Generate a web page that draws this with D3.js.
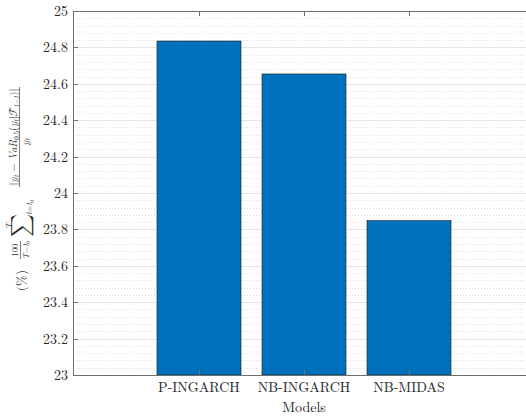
<!DOCTYPE html>
<html>
<head>
<meta charset="utf-8">
<script src="https://cdn.jsdelivr.net/npm/d3@7"></script>
<style>
  html, body { margin: 0; padding: 0; background: #fff; }
  svg { display: block; }
</style>
</head>
<body>
<svg id="chart" width="526" height="418"></svg>
<script>
const categories = ["P-INGARCH", "NB-INGARCH", "NB-MIDAS"];
const values = [24.835, 24.654, 23.848];
const yTicks = [23, 23.2, 23.4, 23.6, 23.8, 24, 24.2, 24.4, 24.6, 24.8, 25];
const yTickLabels = ["23", "23.2", "23.4", "23.6", "23.8", "24", "24.2", "24.4", "24.6", "24.8", "25"];
const xLabel = "Models";

(function () {
const svg = d3.select("#chart");
const serif = "'Latin Modern Roman', 'Liberation Serif', serif";
const mathF = "'Latin Modern Math', 'Latin Modern Roman', 'DejaVu Serif', serif";
const textColor = "#262626";
const pLeft = 73, pTop = 11, pBottom = 375, pRight = 535;

const x = d3.scaleLinear().domain([-0.2, 4.2]).range([pLeft, pRight]);
const y = d3.scaleLinear().domain([23, 25]).range([pBottom, pTop]);

// minor grid
const minor = d3.range(23, 25.0001, 0.04).filter(v => Math.abs(Math.round(v * 5) - v * 5) > 1e-6);
svg.append("g").selectAll("line").data(minor).join("line")
  .attr("x1", pLeft).attr("x2", 526)
  .attr("y1", d => Math.round(y(d)) + 0.5).attr("y2", d => Math.round(y(d)) + 0.5)
  .attr("stroke", "#dcdcdc").attr("stroke-width", 1).attr("stroke-dasharray", "1,2");

// major grid
svg.append("g").selectAll("line").data(yTicks).join("line")
  .attr("x1", pLeft).attr("x2", 526)
  .attr("y1", d => Math.round(y(d)) + 0.5).attr("y2", d => Math.round(y(d)) + 0.5)
  .attr("stroke", "#e3e3e3").attr("stroke-width", 1);

// bars
const bw = 0.8;
svg.append("g").selectAll("rect").data(values).join("rect")
  .attr("x", (d, i) => x(i + 1 - bw / 2))
  .attr("width", x(bw) - x(0))
  .attr("y", d => y(d))
  .attr("height", d => y(23) - y(d))
  .attr("fill", "#0072BD")
  .attr("stroke", "#1a1a1a").attr("stroke-width", 0.6);

// axes box lines
const axisColor = "#6e6e6e";
svg.append("line").attr("x1", pLeft + 0.5).attr("x2", pLeft + 0.5).attr("y1", pTop).attr("y2", pBottom)
  .attr("stroke", axisColor).attr("stroke-width", 1);
svg.append("line").attr("x1", pLeft).attr("x2", 526).attr("y1", pBottom + 0.5).attr("y2", pBottom + 0.5)
  .attr("stroke", axisColor).attr("stroke-width", 1);
svg.append("line").attr("x1", pLeft).attr("x2", 526).attr("y1", pTop + 0.5).attr("y2", pTop + 0.5)
  .attr("stroke", axisColor).attr("stroke-width", 1);

// y ticks (inward)
const yAxis = svg.append("g");
yAxis.selectAll("line").data(yTicks).join("line")
  .attr("x1", pLeft).attr("x2", pLeft + 5)
  .attr("y1", d => Math.round(y(d)) + 0.5).attr("y2", d => Math.round(y(d)) + 0.5)
  .attr("stroke", axisColor);
yAxis.selectAll("text").data(yTicks).join("text")
  .attr("x", pLeft - 5).attr("y", d => y(d) + 5)
  .attr("text-anchor", "end").attr("font-size", 14)
  .attr("font-family", serif).attr("fill", textColor)
  .text((d, i) => yTickLabels[i]);

// x ticks (inward, bottom & top)
const xAxis = svg.append("g");
categories.forEach((c, i) => {
  const cx = Math.round(x(i + 1)) + 0.5;
  xAxis.append("line").attr("x1", cx).attr("x2", cx).attr("y1", pBottom).attr("y2", pBottom - 5).attr("stroke", axisColor);
  xAxis.append("line").attr("x1", cx).attr("x2", cx).attr("y1", pTop).attr("y2", pTop + 5).attr("stroke", axisColor);
  xAxis.append("text").attr("x", x(i + 1)).attr("y", 392)
    .attr("text-anchor", "middle").attr("font-size", 14)
    .attr("font-family", serif).attr("fill", textColor).text(c);
});

// x label
svg.append("text").attr("x", (pLeft + pRight) / 2).attr("y", 412)
  .attr("text-anchor", "middle").attr("font-size", 14)
  .attr("font-family", serif).attr("fill", textColor).text(xLabel);

// y label (math, rotated)
const g = svg.append("g").attr("transform", "translate(21,292) rotate(-90)")
  .attr("font-family", serif).attr("fill", textColor);
const it = "italic";
g.append("text").attr("x", 1).attr("y", 4.5).attr("font-size", 13).text("(%)");
g.append("text").attr("x", 42).attr("y", -3).attr("text-anchor", "middle").attr("font-size", 8.5).text("100");
g.append("line").attr("x1", 33).attr("x2", 51).attr("y1", -0.5).attr("y2", -0.5).attr("stroke", textColor).attr("stroke-width", 0.6);
{
  const t = g.append("text").attr("x", 42).attr("y", 7.5).attr("text-anchor", "middle").attr("font-size", 8.5);
  t.append("tspan").attr("font-style", it).text("T");
  t.append("tspan").text("\u2212");
  t.append("tspan").attr("font-style", it).text("t");
  t.append("tspan").attr("font-size", 6).attr("dy", 1.5).text("0");
}
g.append("text").attr("x", 55).attr("y", 7).attr("font-size", 22).attr("font-family", mathF).text("\u2211");
g.append("text").attr("x", 63).attr("y", -9).attr("font-size", 8.5).attr("font-style", it).text("T");
{
  const t = g.append("text").attr("x", 77).attr("y", 11).attr("font-size", 8.5);
  t.append("tspan").attr("font-style", it).text("t");
  t.append("tspan").text("=");
  t.append("tspan").attr("font-style", it).text("t");
  t.append("tspan").attr("font-size", 6).attr("dy", 1.5).text("0");
}
{
  const t = g.append("text").attr("x", 155).attr("y", -4).attr("text-anchor", "middle").attr("font-size", 10.5);
  t.append("tspan").text("|");
  t.append("tspan").attr("font-style", it).text("y");
  t.append("tspan").attr("font-style", it).attr("font-size", 7).attr("dy", 1.5).text("t");
  t.append("tspan").attr("dy", -1.5).text(" \u2212 ");
  t.append("tspan").attr("font-style", it).text("VaR");
  t.append("tspan").attr("font-size", 7).attr("dy", 1.5).text("0.5");
  t.append("tspan").attr("dy", -1.5).text("(");
  t.append("tspan").attr("font-style", it).text("y");
  t.append("tspan").attr("font-style", it).attr("font-size", 7).attr("dy", 1.5).text("t");
  t.append("tspan").attr("dy", -1.5).text("|");
  t.append("tspan").attr("font-family", mathF).text("\u2131");
  t.append("tspan").attr("font-style", it).attr("font-size", 7).attr("dy", 1.5).text("t\u22121");
  t.append("tspan").attr("dy", -1.5).text(")|");
}
g.append("line").attr("x1", 105).attr("x2", 205).attr("y1", -1.5).attr("y2", -1.5).attr("stroke", textColor).attr("stroke-width", 0.6);
{
  const t = g.append("text").attr("x", 150).attr("y", 7.5).attr("text-anchor", "middle").attr("font-size", 10.5);
  t.append("tspan").attr("font-style", it).text("y");
  t.append("tspan").attr("font-style", it).attr("font-size", 7).attr("dy", 1.5).text("t");
}
})();
</script>
</body>
</html>
